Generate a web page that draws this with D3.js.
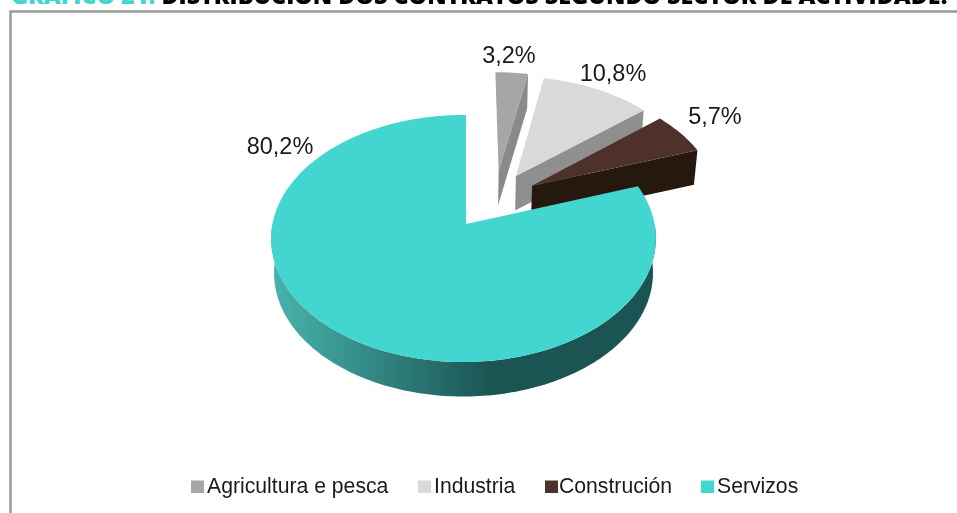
<!DOCTYPE html>
<html>
<head>
<meta charset="utf-8">
<script src="https://cdn.jsdelivr.net/npm/d3@7"></script>
<style>
  html, body { margin: 0; padding: 0; background: #fff; overflow: hidden; }
  svg { display: block; }
  text { font-family: "Liberation Sans", Arial, sans-serif; fill: #1a1a1a; }
</style>
</head>
<body>
<div id="graph"></div>
<script>
const categories = ["Agricultura e pesca", "Industria", "Construción", "Servizos"];
const values = [3.2, 10.8, 5.7, 80.2];
const valueLabels = ["3,2%", "10,8%", "5,7%", "80,2%"];

const width = 957, height = 513;
const topColors = ["#a6a6a6", "#d9d9d9", "#4e3229", "#43d5d0"];
const wallColors = ["#8a8a8a", "#8f8f8f", "#25180f", "#1a5553"];
// how far each slice is pulled off the centre, in units of the radius
const explode = [[0.18, -0.46], [0.274, -0.413], [0.359, -0.327], [0, 0]];
// the big slice leans a bit to the left
const lean = [0, 0, 0, 0.013];
const labelPos = [[509, 63], [613, 81], [715, 124], [280, 154]];

const svg = d3.select("#graph").append("svg")
  .attr("width", width).attr("height", height)
  .style("filter", "blur(0.4px)");

const cx = 466, cy = 224;
const persp = 0.1174, depth = 34.5, bottomShrink = 0.985;
const xScale = d3.scaleLinear().domain([-1, 1]).range([-191, 191]);
const yScale = d3.scaleLinear().domain([-1, 1]).range([-121.8, 121.8]);

// disc point -> screen, with a little perspective so the front looks bigger
function project(x, y, bottom, q) {
  const w = 1 / (1 - persp * y + (q || 0) * x);
  return [
    cx + xScale(x) * w * (bottom ? bottomShrink : 1),
    cy + yScale(y) * w + (bottom ? depth : 0)
  ];
}

function arcPoints(a0, a1, off, bottom, q) {
  const n = Math.max(2, Math.ceil((a1 - a0) / 0.02));
  return d3.range(n + 1).map(i => {
    const a = a0 + (a1 - a0) * i / n;
    return project(Math.sin(a) + off[0], -Math.cos(a) + off[1], bottom, q);
  });
}

const line = d3.line();
const slices = d3.pie().sort(null)(values);

const defs = svg.append("defs");
const grad = defs.append("linearGradient").attr("id", "wallGrad")
  .attr("gradientUnits", "userSpaceOnUse")
  .attr("x1", 275).attr("x2", 490).attr("y1", 0).attr("y2", 0);
grad.append("stop").attr("offset", 0).attr("stop-color", "#48b2ac");
grad.append("stop").attr("offset", 1).attr("stop-color", "#1a5553");

// frame
svg.append("path")
  .attr("d", "M10.5,513V11.5H957")
  .attr("fill", "none").attr("stroke", "#999").attr("stroke-width", 2.5);

// cut off title along the top edge
const title = svg.append("text").attr("x", 11).attr("y", 4)
  .style("font-family", "'Open Sans', sans-serif")
  .style("font-weight", 800).style("font-size", "23.3px");
title.append("tspan").style("fill", "#43d5d0").text("GRÁFICO 21. ");
title.append("tspan").style("fill", "#000").text("DISTRIBUCIÓN DOS CONTRATOS SEGUNDO SECTOR DE ACTIVIDADE.");

const pieG = svg.append("g");
slices.forEach((s, i) => {
  const off = explode[i];
  const q = lean[i];
  const g = pieG.append("g");
  if (i < 3) {
    // cut face along the end of the slice
    const ox = Math.sin(s.endAngle) + off[0], oy = -Math.cos(s.endAngle) + off[1];
    g.append("path")
      .attr("d", line([
        project(off[0], off[1], false, q), project(ox, oy, false, q),
        project(ox, oy, true, q), project(off[0], off[1], true, q)
      ]) + "Z")
      .attr("fill", wallColors[i]);
  } else {
    // outer rim, only the front part shows
    const a0 = Math.PI * 0.5, a1 = Math.PI * 1.5;
    const rim = arcPoints(a0, a1, off, false, q).concat(arcPoints(a0, a1, off, true, q).reverse());
    g.append("path").attr("d", line(rim) + "Z").attr("fill", "url(#wallGrad)");
  }
  const face = [project(off[0], off[1], false, q)].concat(arcPoints(s.startAngle, s.endAngle, off, false, q));
  g.append("path").attr("d", line(face) + "Z").attr("fill", topColors[i]);
});

svg.append("g").selectAll("text").data(valueLabels).enter().append("text")
  .attr("x", (d, i) => labelPos[i][0])
  .attr("y", (d, i) => labelPos[i][1])
  .attr("text-anchor", "middle")
  .style("font-size", "23.5px")
  .text(d => d);

// legend
const legendX = [191, 418, 545, 701];
const legendText = [16, 16, 14, 16];
const legend = svg.append("g").selectAll("g").data(categories).enter().append("g")
  .attr("transform", (d, i) => "translate(" + legendX[i] + ",480.5)");
legend.append("rect").attr("width", 13).attr("height", 12.5)
  .attr("fill", (d, i) => topColors[i]);
legend.append("text").attr("x", (d, i) => legendText[i]).attr("y", 12.5)
  .style("font-size", "21.2px")
  .text(d => d);
</script>
</body>
</html>
